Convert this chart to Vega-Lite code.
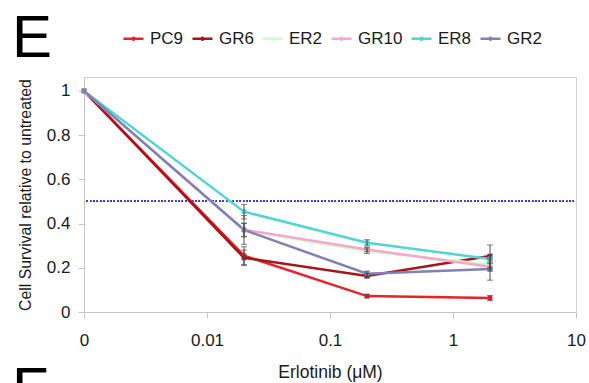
{
  "$schema": "https://vega.github.io/schema/vega-lite/v6.json",
  "width": 492,
  "height": 235,
  "autosize": "none",
  "padding": {"left": 84, "top": 77, "right": 13, "bottom": 71},
  "datasets": {
    "survival": [
      {"cell": "PC9", "dose": 0.001, "survival": 1.0, "err": 0},
      {"cell": "PC9", "dose": 0.02, "survival": 0.255, "err": 0.04},
      {"cell": "PC9", "dose": 0.2, "survival": 0.072, "err": 0.008},
      {"cell": "PC9", "dose": 2, "survival": 0.063, "err": 0.012},
      {"cell": "GR6", "dose": 0.001, "survival": 1.0, "err": 0},
      {"cell": "GR6", "dose": 0.02, "survival": 0.245, "err": 0.035},
      {"cell": "GR6", "dose": 0.2, "survival": 0.163, "err": 0.01},
      {"cell": "GR6", "dose": 2, "survival": 0.253, "err": 0.05},
      {"cell": "ER2", "dose": 0.001, "survival": 1.0, "err": 0},
      {"cell": "ER2", "dose": 0.02, "survival": 0.37, "err": 0.03},
      {"cell": "ER2", "dose": 0.2, "survival": 0.275, "err": 0.01},
      {"cell": "ER2", "dose": 2, "survival": 0.215, "err": 0.02},
      {"cell": "GR10", "dose": 0.001, "survival": 1.0, "err": 0},
      {"cell": "GR10", "dose": 0.02, "survival": 0.372, "err": 0.03},
      {"cell": "GR10", "dose": 0.2, "survival": 0.283, "err": 0.01},
      {"cell": "GR10", "dose": 2, "survival": 0.205, "err": 0.02},
      {"cell": "ER8", "dose": 0.001, "survival": 1.0, "err": 0},
      {"cell": "ER8", "dose": 0.02, "survival": 0.454, "err": 0.033},
      {"cell": "ER8", "dose": 0.2, "survival": 0.313, "err": 0.014},
      {"cell": "ER8", "dose": 2, "survival": 0.24, "err": 0.02},
      {"cell": "GR2", "dose": 0.001, "survival": 1.0, "err": 0},
      {"cell": "GR2", "dose": 0.02, "survival": 0.371, "err": 0.065},
      {"cell": "GR2", "dose": 0.2, "survival": 0.173, "err": 0.012},
      {"cell": "GR2", "dose": 2, "survival": 0.194, "err": 0.05}
    ],
    "panels": [
      {"letter": "E", "px": 0.00026, "py": 1.154},
      {"letter": "F", "px": 0.00026, "py": -0.44}
    ]
  },
  "data": {"name": "survival"},
  "layer": [
    {
      "mark": {"type": "rule", "color": "#3a3ad8", "strokeDash": [1.2, 2.2], "strokeWidth": 1.3},
      "encoding": {
        "y": {"datum": 0.5, "type": "quantitative"},
        "x": {"datum": 0.00105, "type": "quantitative"},
        "x2": {"datum": 10}
      }
    },
    {
      "mark": {"type": "line", "strokeWidth": 2.5},
      "encoding": {
        "x": {
          "field": "dose", "type": "quantitative",
          "scale": {"type": "log", "domain": [0.001, 10], "nice": false},
          "axis": {
            "values": [0.001, 0.002, 0.003, 0.004, 0.005, 0.006, 0.007, 0.008, 0.009, 0.01, 0.02, 0.03, 0.04, 0.05, 0.06, 0.07, 0.08, 0.09, 0.1, 0.2, 0.3, 0.4, 0.5, 0.6, 0.7, 0.8, 0.9, 1, 2, 3, 4, 5, 6, 7, 8, 9, 10],
            "labelExpr": "datum.value == 0.001 ? '0' : (indexof([0.01, 0.1, 1, 10], datum.value) >= 0 ? format(datum.value, '~g') : '')",
            "labelOverlap": false,
            "labelFlush": false,
            "gridColor": {"condition": {"test": "indexof([0.001, 0.01, 0.1, 1, 10], datum.value) >= 0", "value": "#d2d2d2"}, "value": "#ededed"},
            "tickOpacity": {"condition": {"test": "indexof([0.001, 0.01, 0.1, 1, 10], datum.value) >= 0", "value": 1}, "value": 0},
            "title": "Erlotinib (μM)"
          }
        },
        "y": {
          "field": "survival", "type": "quantitative",
          "title": "Cell Survival relative to untreated",
          "scale": {"domain": [0, 1.063], "nice": false},
          "axis": {"values": [0, 0.2, 0.4, 0.6, 0.8, 1], "format": "~g", "titleFontSize": 15.8, "titlePadding": 13}
        },
        "color": {
          "field": "cell", "type": "nominal",
          "scale": {"domain": ["PC9", "GR6", "ER2", "GR10", "ER8", "GR2"], "range": ["#e8222a", "#a3161b", "#ccffcc", "#f8a5cf", "#52d4d2", "#8080b6"]},
          "legend": {
            "title": null, "orient": "none", "direction": "horizontal", "columns": 6,
            "legendX": 38, "legendY": -50,
            "symbolType": "M-1,0H1M-0.1,0a0.1,0.1 0 1,0 0.2,0a0.1,0.1 0 1,0 -0.2,0",
            "symbolSize": 400, "symbolStrokeWidth": 2.5,
            "labelFontSize": 17, "labelOffset": 5, "columnPadding": 3, "labelColor": "#1a1a1a"
          }
        }
      }
    },
    {
      "mark": {"type": "point", "shape": "square", "filled": true, "size": 22, "opacity": 1},
      "encoding": {
        "x": {"field": "dose", "type": "quantitative"},
        "y": {"field": "survival", "type": "quantitative", "title": "Cell Survival relative to untreated"},
        "color": {"field": "cell", "type": "nominal"}
      }
    },
    {
      "transform": [{"filter": "datum.err > 0"}],
      "mark": {"type": "errorbar", "ticks": {"size": 6}, "color": "#4a4a4a", "thickness": 1},
      "encoding": {
        "x": {"field": "dose", "type": "quantitative"},
        "y": {"field": "survival", "type": "quantitative", "title": "Cell Survival relative to untreated"},
        "yError": {"field": "err"}
      }
    },
    {
      "data": {"name": "panels"},
      "mark": {"type": "text", "fontSize": 60, "align": "left", "baseline": "alphabetic", "color": "#000000", "font": "Liberation Sans"},
      "encoding": {
        "x": {"field": "px", "type": "quantitative"},
        "y": {"field": "py", "type": "quantitative", "title": "Cell Survival relative to untreated"},
        "text": {"field": "letter"}
      }
    }
  ],
  "config": {
    "font": "Liberation Sans",
    "view": {"stroke": "#d0d0d0"},
    "axis": {
      "labelFontSize": 17, "labelColor": "#1a1a1a", "titleFontSize": 17.5, "titleFontWeight": "normal", "titleColor": "#1a1a1a",
      "domainColor": "#c4c4c4", "tickColor": "#c4c4c4", "tickSize": 6, "gridColor": "#ececec", "labelPadding": 8
    },
    "axisX": {"labelPadding": 14, "titlePadding": 15},
    "legend": {"labelFont": "Liberation Sans"}
  }
}
